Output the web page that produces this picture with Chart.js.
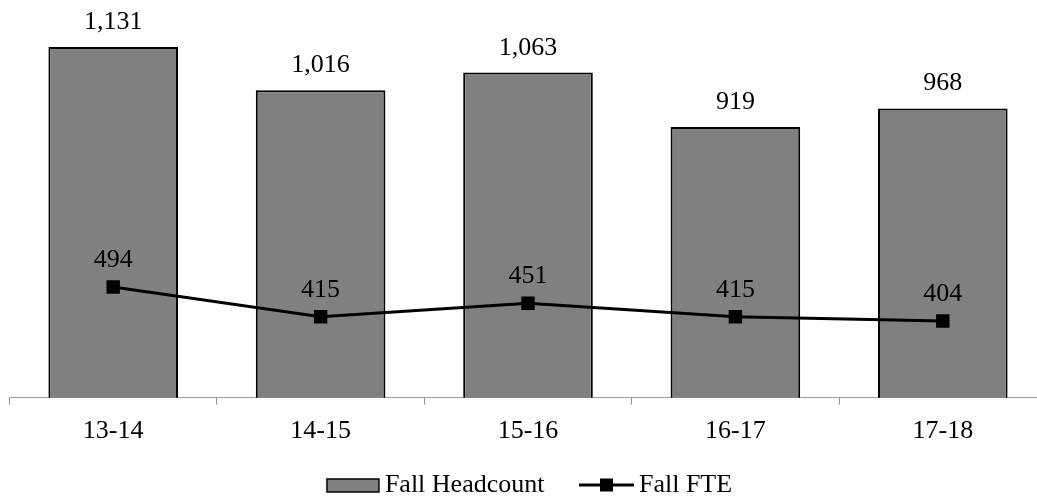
<!DOCTYPE html>
<html>
<head>
<meta charset="utf-8">
<script src="https://cdn.jsdelivr.net/npm/chart.js@4/dist/chart.umd.min.js"></script>
<style>
  html, body { margin: 0; padding: 0; background: #fff; overflow: hidden; }
  #wrap { position: absolute; left: 0; top: 0; width: 1056px; height: 508px; }
</style>
</head>
<body>
<div id="wrap"><canvas id="myChart"></canvas></div>
<script>
// data
const years = ['13-14', '14-15', '15-16', '16-17', '17-18'];
const headcount = [1131, 1016, 1063, 919, 968];
const fte = [494, 415, 451, 415, 404];

const serif = 'Liberation Serif';

// little canvases for the legend symbols (box area is 48 wide, canvas centred on it)
function boxSymbol() {
    const c = document.createElement('canvas');
    c.width = 66; c.height = 18;
    const g = c.getContext('2d');
    g.fillStyle = '#808080';
    g.fillRect(12, 3, 52, 13);
    g.strokeStyle = '#000';
    g.lineWidth = 1.5;
    g.strokeRect(12, 3, 52, 13);
    return c;
}
function lineSymbol() {
    const c = document.createElement('canvas');
    c.width = 66; c.height = 18;
    const g = c.getContext('2d');
    g.strokeStyle = '#000';
    g.lineWidth = 3;
    g.beginPath(); g.moveTo(10, 9); g.lineTo(65, 9); g.stroke();
    g.fillStyle = '#000';
    g.fillRect(31, 2.5, 13, 13);
    return c;
}

// draws the numbers above bars and points
const valueLabels = {
    id: 'valueLabels',
    afterDatasetsDraw(chart) {
        const ctx = chart.ctx;
        ctx.save();
        ctx.font = '26px ' + serif;
        ctx.fillStyle = '#000';
        ctx.textAlign = 'center';
        ctx.textBaseline = 'alphabetic';
        chart.data.datasets.forEach((ds, i) => {
            const meta = chart.getDatasetMeta(i);
            const gap = ds.type === 'bar' ? 18 : 20;
            meta.data.forEach((el, j) => {
                ctx.fillText(ds.data[j].toLocaleString('en-US'), el.x, el.y - gap);
            });
        });
        ctx.restore();
    }
};

const data = {
    labels: years,
    datasets: [{
        type: 'bar',
        label: 'Fall Headcount',
        data: headcount,
        backgroundColor: '#808080',
        borderColor: '#000',
        borderWidth: 2,
        borderSkipped: 'bottom',
        categoryPercentage: 0.625,
        barPercentage: 1,
        order: 2
    }, {
        type: 'line',
        label: 'Fall FTE',
        data: fte,
        borderColor: '#000',
        borderWidth: 3,
        backgroundColor: '#000',
        pointStyle: 'rect',
        pointRadius: 9.5,
        pointBorderWidth: 0,
        tension: 0,
        order: 1
    }]
};

const config = {
    data: data,
    plugins: [valueLabels],
    options: {
        responsive: true,
        maintainAspectRatio: false,
        animation: false,
        layout: { padding: { top: 21, left: 8, right: 8, bottom: 0 } },
        plugins: {
            tooltip: { enabled: false },
            legend: {
                position: 'bottom',
                labels: {
                    usePointStyle: true,
                    pointStyleWidth: 48,
                    boxHeight: 16,
                    padding: 14,
                    color: '#000',
                    font: { family: serif, size: 26 },
                    generateLabels() {
                        return [
                            // trailing spaces widen the gap to the next item
                            { text: 'Fall Headcount   ', pointStyle: boxSymbol(), fontColor: '#000', lineWidth: 0, strokeStyle: 'rgba(0,0,0,0)', fillStyle: 'rgba(0,0,0,0)', datasetIndex: 0 },
                            { text: 'Fall FTE', pointStyle: lineSymbol(), fontColor: '#000', lineWidth: 0, strokeStyle: 'rgba(0,0,0,0)', fillStyle: 'rgba(0,0,0,0)', datasetIndex: 1 }
                        ];
                    }
                }
            }
        },
        scales: {
            x: {
                offset: true,
                grid: {
                    offset: true,
                    drawOnChartArea: false,
                    drawTicks: true,
                    tickLength: 7,
                    color: '#999'
                },
                border: { color: '#999', width: 1 },
                ticks: {
                    color: '#000',
                    padding: 11,
                    font: { family: serif, size: 26 }
                }
            },
            y: {
                display: false,
                min: 200,
                max: 1200
            }
        }
    }
};

const myChart = new Chart(document.getElementById('myChart'), config);
</script>
</body>
</html>
